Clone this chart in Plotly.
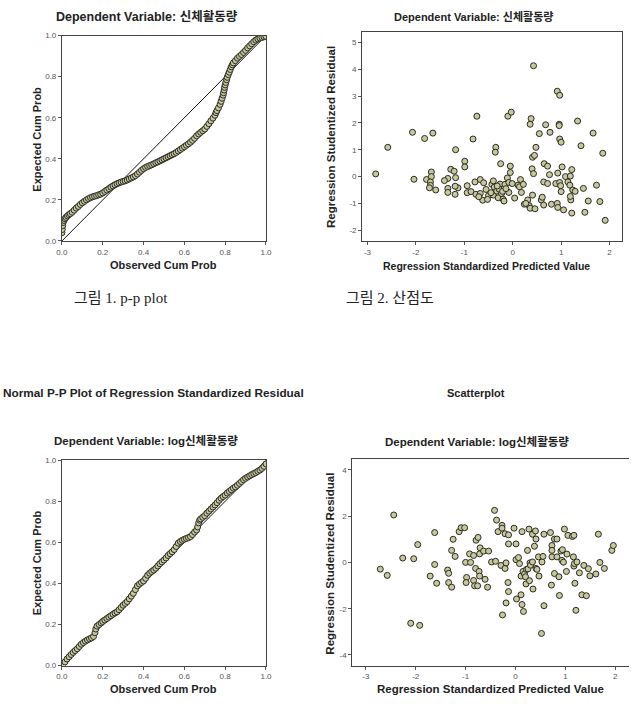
import plotly.graph_objects as go

W, H = 635, 719

# ---------------- data ----------------
# Fig 1: P-P plot, dependent variable 신체활동량
pp1_obs = [0.0, 0.002, 0.004, 0.006, 0.01, 0.015, 0.02, 0.027, 0.034, 0.041, 0.05,
           0.06, 0.07, 0.08, 0.09, 0.1, 0.11, 0.12, 0.13, 0.14, 0.15,
           0.16, 0.17, 0.18, 0.19, 0.2, 0.21, 0.22, 0.23, 0.24, 0.25, 0.26, 0.27, 0.28, 0.29, 0.30, 0.31,
           0.32, 0.33, 0.34, 0.35, 0.36, 0.37, 0.38, 0.39, 0.40, 0.41, 0.42, 0.43, 0.44, 0.45, 0.46, 0.47,
           0.48, 0.49, 0.50, 0.51, 0.52, 0.53, 0.54, 0.55, 0.56, 0.57, 0.58, 0.59, 0.60, 0.61, 0.62, 0.63,
           0.64, 0.65, 0.66, 0.67, 0.68, 0.69, 0.70, 0.71, 0.72, 0.73, 0.74, 0.75, 0.755, 0.76, 0.767,
           0.775, 0.78, 0.785, 0.79, 0.792, 0.795, 0.797, 0.80, 0.803, 0.807, 0.81, 0.815, 0.82, 0.825,
           0.83, 0.835, 0.84, 0.85, 0.86, 0.87, 0.88, 0.89, 0.9, 0.91, 0.92, 0.93, 0.94, 0.95, 0.96,
           0.97, 0.98, 0.99, 1.0]
pp1_exp = [0.04, 0.056, 0.075, 0.09, 0.1, 0.108, 0.115, 0.122, 0.128, 0.133, 0.14,
           0.15, 0.16, 0.168, 0.178, 0.186, 0.193, 0.2, 0.206, 0.211, 0.215,
           0.218, 0.221, 0.225, 0.228, 0.234, 0.241, 0.248, 0.255, 0.262, 0.268, 0.274, 0.279, 0.283, 0.287, 0.29, 0.293,
           0.297, 0.302, 0.307, 0.312, 0.318, 0.326, 0.335, 0.344, 0.352, 0.358, 0.363, 0.367, 0.371, 0.376, 0.381, 0.385,
           0.39, 0.395, 0.40, 0.405, 0.41, 0.415, 0.42, 0.425, 0.431, 0.438, 0.445, 0.452, 0.459, 0.466, 0.473, 0.481,
           0.49, 0.5, 0.512, 0.521, 0.529, 0.537, 0.545, 0.558, 0.571, 0.585, 0.598, 0.612, 0.625, 0.635, 0.648,
           0.665, 0.68, 0.695, 0.71, 0.722, 0.735, 0.748, 0.76, 0.772, 0.785, 0.797, 0.81, 0.822, 0.835,
           0.848, 0.858, 0.867, 0.878, 0.89, 0.899, 0.908, 0.918, 0.928, 0.94, 0.95, 0.96, 0.97, 0.978, 0.984,
           0.988, 0.991, 0.994, 0.996]

# Fig 2: scatterplot, dependent variable 신체활동량
sc1_pred = [-2.83, -2.58, -2.07, -2.04, -1.82, -1.65, -1.78, -1.68, -1.68, -1.70, -1.70, -1.72, -1.59,
            -1.18, -1.28, -1.21, -1.34, -1.41, -1.34, -1.34, -1.19, -1.18, -1.13, -1.19,
            -0.99, -0.99, -0.94, -0.94, -0.86, -0.76, -0.82, -0.74, -0.78, -0.67, -0.67, -0.60, -0.62,
            -0.55, -0.50, -0.43, -0.40, -0.38, -0.35, -0.36, -0.40, -0.33, -0.30, -0.26, -0.28, -0.25,
            -0.23, -0.20, -0.18, -0.16, -0.11, -0.10, -0.03, -0.05, -0.05, -0.08, -0.08, -0.01, 0.04,
            0.11, 0.14, 0.16, 0.18, 0.22, 0.24, 0.31, 0.34, 0.36, 0.40, 0.43, 0.41, 0.46, 0.43, 0.38,
            0.36, 0.41, 0.45, 0.48, 0.55, 0.59, 0.61, 0.64, 0.65, 0.68, 0.72, 0.72, 0.64, 0.77, 0.76,
            0.80, 0.89, 0.92, 0.97, 0.93, 0.92, 0.93, 0.96, 0.96, 0.97, 1.00, 0.97, 0.99, 1.02, 1.00,
            1.05, 1.09, 1.14, 1.18, 1.20, 1.19, 1.22, 1.24, 1.22, 1.29, 1.34, 1.41, 1.46, 1.49, 1.56,
            1.66, 1.73, 1.80, 1.86, 1.91, 1.19, -0.45, -0.32, -0.21, -0.70, -0.52, -0.14, 0.27]
sc1_res = [0.10, 1.09, 1.65, -0.10, 1.42, 1.62, -0.11, 0.17, 0.0, -0.20, -0.33, -0.42, -0.50,
           1.00, 0.27, 0.20, -0.07, -0.15, -0.44, -0.59, -0.66, -0.04, -0.42, -0.36,
           0.57, 0.36, -0.34, -0.60, -0.56, -0.66, 1.40, 2.25, -0.20, -0.63, -0.11, -0.23, -0.88,
           -0.48, -0.71, -0.29, -0.16, -0.39, 1.09, 0.91, -0.69, -0.54, -0.79, -0.28, -0.47, 0.48,
           -0.63, -0.84, -0.91, -0.29, -0.05, 2.25, 2.40, 0.39, 0.15, -0.59, -0.22, -0.26, -0.80,
           -0.32, -0.38, -0.11, -0.59, -0.29, -1.03, -0.87, -1.08, -1.18, 0.29, 0.11, -0.69, -1.20, 4.13, 2.16,
           1.95, 0.72, 0.79, 1.09, 1.60, -0.87, -0.77, -0.20, 0.48, 1.93, 0.39, -0.26, -1.06, 1.65, 0.07,
           -1.03, -0.26, 3.18, 3.03, 0.13, -1.00, -1.15, 1.95, 1.90, 1.40, 1.28, -0.22, -0.34, 0.36, -0.56,
           -1.24, 0.0, -0.20, -0.32, -0.87, 0.02, 0.26, -0.50, -1.36, -0.55, 2.07, 1.15, -0.44, -1.33, -0.91,
           1.62, -0.32, -0.93, 0.87, -1.63, -0.74, -0.60, -0.35, -0.55, -0.75, -0.85, -0.45, -1.0]

# Fig 3: P-P plot, dependent variable log신체활동량
pp2_obs = [0.005, 0.015, 0.025, 0.035, 0.045, 0.055, 0.065, 0.075, 0.085, 0.095, 0.105, 0.115, 0.125,
           0.135, 0.145, 0.155, 0.162, 0.166, 0.172, 0.182, 0.192, 0.2, 0.21, 0.22, 0.23, 0.24, 0.25,
           0.26, 0.27, 0.28, 0.29, 0.30, 0.31, 0.32, 0.33, 0.34, 0.35, 0.36, 0.37, 0.38, 0.39, 0.40,
           0.41, 0.42, 0.43, 0.44, 0.45, 0.46, 0.47, 0.48, 0.49, 0.50, 0.51, 0.52, 0.53, 0.54, 0.55,
           0.56, 0.57, 0.58, 0.59, 0.60, 0.61, 0.62, 0.63, 0.64, 0.65, 0.66, 0.665, 0.67, 0.675, 0.68,
           0.69, 0.70, 0.71, 0.72, 0.73, 0.74, 0.75, 0.76, 0.77, 0.78, 0.79, 0.80, 0.81, 0.82, 0.83,
           0.84, 0.85, 0.86, 0.87, 0.88, 0.89, 0.90, 0.91, 0.92, 0.93, 0.94, 0.95, 0.96, 0.97, 0.98,
           0.99, 1.0]
pp2_exp = [0.006, 0.018, 0.032, 0.043, 0.054, 0.064, 0.073, 0.082, 0.093, 0.104, 0.112, 0.119, 0.125,
           0.13, 0.135, 0.142, 0.16, 0.178, 0.192, 0.2, 0.208, 0.215, 0.222, 0.229, 0.236, 0.243, 0.25,
           0.256, 0.262, 0.272, 0.283, 0.294, 0.303, 0.312, 0.325, 0.338, 0.352, 0.37, 0.388, 0.397, 0.405, 0.412,
           0.425, 0.44, 0.45, 0.458, 0.465, 0.474, 0.485, 0.496, 0.505, 0.514, 0.524, 0.536, 0.545, 0.554, 0.565,
           0.58, 0.596, 0.604, 0.61, 0.615, 0.619, 0.623, 0.628, 0.638, 0.65, 0.66, 0.675, 0.695, 0.708, 0.714,
           0.722, 0.73, 0.742, 0.752, 0.762, 0.772, 0.782, 0.793, 0.805, 0.815, 0.823, 0.83, 0.84, 0.848, 0.856,
           0.864, 0.87, 0.878, 0.887, 0.896, 0.905, 0.912, 0.918, 0.924, 0.93, 0.935, 0.94, 0.946, 0.952, 0.96,
           0.97, 0.982]

# Fig 4: scatterplot, dependent variable log신체활동량
sc2_pred = [-2.71, -2.57, -2.44, -2.26, -2.10, -2.04, -1.96, -1.92, -1.71, -1.62, -1.62, -1.58,
            -1.36, -1.34, -1.34, -1.28, -1.28, -1.25, -1.21, -1.13, -1.09, -1.02, -1.00, -0.98, -0.99,
            -0.92, -0.90, -0.84, -0.84, -0.80, -0.82, -0.79, -0.75, -0.76, -0.72, -0.73, -0.72, -0.71,
            -0.64, -0.61, -0.54, -0.56, -0.48, -0.42, -0.38, -0.40, -0.35, -0.29, -0.27, -0.27, -0.26,
            -0.21, -0.21, -0.19, -0.19, -0.14, -0.14, -0.15, -0.14, -0.03, 0.01, 0.01, 0.02, 0.06, 0.08,
            0.13, 0.11, 0.11, 0.13, 0.15, 0.16, 0.18, 0.20, 0.21, 0.22, 0.24, 0.25, 0.27, 0.28, 0.29, 0.30,
            0.34, 0.34, 0.35, 0.38, 0.40, 0.41, 0.41, 0.43, 0.46, 0.47, 0.52, 0.53, 0.55, 0.57, 0.57,
            0.70, 0.73, 0.73, 0.73, 0.72, 0.78, 0.78, 0.83, 0.83, 0.87, 0.88, 0.91, 0.94, 0.93, 0.96,
            0.98, 1.02, 1.03, 1.05, 1.14, 1.17, 1.16, 1.17, 1.19, 1.21, 1.18, 1.23, 1.28, 1.33, 1.37,
            1.42, 1.46, 1.49, 1.61, 1.66, 1.69, 1.78, 1.93, 1.96]
sc2_res = [-0.29, -0.56, 2.05, 0.19, -2.63, 0.16, 0.77, -2.72, -0.59, 1.29, -0.09, -0.90,
           -0.33, -0.47, -0.87, -1.07, 0.52, 1.00, 0.26, 1.33, 1.50, 1.50, 0.0, -0.65, -0.87,
           0.37, 0.0, 0.30, -0.78, -0.26, -1.01, 0.96, 1.08, -1.01, 0.37, -0.39, -0.59, 0.63,
           0.49, -0.73, 0.49, -1.07, 0.02, 2.25, 1.83, 0.05, 1.33, -0.13, 1.60, 1.48, -2.27,
           1.24, -0.26, -0.02, -1.75, 1.19, 0.80, -0.87, -1.26, 1.48, 0.80, 0.12, -1.58, 0.21, -0.05,
           1.33, -0.59, -1.40, -1.82, -0.39, -2.12, -0.50, -0.62, -0.93, -0.30, 0.52, -0.28, 1.44, -0.79, -0.02, -0.12,
           1.22, 0.02, -1.15, 0.70, 1.36, 1.01, -0.26, -0.30, 0.24, -0.59, -3.07, 0.02, 0.26, 1.22, -1.87,
           1.29, 0.73, 0.52, 0.24, -0.98, 1.01, -0.48, 1.01, 0.24, -0.62, -1.43, 0.49, 0.55, 0.09, 0.01,
           1.44, -0.39, 0.36, 1.17, 1.12, 1.17, 0.24, -0.16, -0.90, -2.07, -0.05, 0.02, -0.45, -1.40, -0.13,
           -1.44, -0.27, -0.58, -0.50, 1.22, 0.0, -0.26, 0.52, 0.73]

diag_x = [0, 1]
diag_y = [0, 1]

pp_ticks = [0.0, 0.2, 0.4, 0.6, 0.8, 1.0]
pp_ticktext = ["0.0", "0.2", "0.4", "0.6", "0.8", "1.0"]
sc_x_ticks = [-3, -2, -1, 0, 1, 2]
sc_x_text = ["-3", "-2", "-1", "0", "1", "2"]
sc1_y_ticks = [-2, -1, 0, 1, 2, 3, 4, 5]
sc1_y_text = ["-2", "-1", "0", "1", "2", "3", "4", "5"]
sc2_y_ticks = [-4, -2, 0, 2, 4]
sc2_y_text = ["-4", "-2", "0", "2", "4"]

# ---------------- figure ----------------
def fx(p):
    return p / W

def fy(p):
    return 1 - p / H

marker = dict(size=6, color="#c8c898", line=dict(color="#2a2a2a", width=1))

fig = go.Figure()
fig.add_trace(go.Scatter(x=diag_x, y=diag_y, mode="lines", line=dict(color="#111", width=1),
                         xaxis="x", yaxis="y", hoverinfo="skip"))
fig.add_trace(go.Scatter(x=pp1_obs, y=pp1_exp, mode="markers", marker=marker, xaxis="x", yaxis="y"))
fig.add_trace(go.Scatter(x=sc1_pred, y=sc1_res, mode="markers", marker=marker, xaxis="x2", yaxis="y2"))
fig.add_trace(go.Scatter(x=diag_x, y=diag_y, mode="lines", line=dict(color="#111", width=1),
                         xaxis="x3", yaxis="y3", hoverinfo="skip"))
fig.add_trace(go.Scatter(x=pp2_obs, y=pp2_exp, mode="markers", marker=marker, xaxis="x3", yaxis="y3"))
fig.add_trace(go.Scatter(x=sc2_pred, y=sc2_res, mode="markers", marker=marker, xaxis="x4", yaxis="y4"))

tickfont = dict(family="Liberation Sans, Arial, sans-serif", size=8, color="#555")

def ax(domain, rng, tv, tt, anchor, mirror=True):
    return dict(domain=domain, range=rng, anchor=anchor, showline=True, linecolor="#444",
                linewidth=1, mirror=mirror, ticks="outside", ticklen=3, tickcolor="#555",
                tickvals=tv, ticktext=tt, showgrid=False, zeroline=False, tickfont=tickfont,
                fixedrange=True)

fig.update_layout(
    width=W, height=H, margin=dict(l=0, r=0, t=0, b=0),
    paper_bgcolor="white", plot_bgcolor="white", showlegend=False,
    xaxis=ax([fx(57), fx(265)], [0, 1], pp_ticks, pp_ticktext, "y"),
    yaxis=ax([fy(240), fy(32)], [0, 1], pp_ticks, pp_ticktext, "x"),
    xaxis2=ax([fx(363), fx(628)], [-3.11, 2.26], sc_x_ticks, sc_x_text, "y2"),
    yaxis2=ax([fy(240), fy(28)], [-2.4, 5.4], sc1_y_ticks, sc1_y_text, "x2"),
    xaxis3=ax([fx(57), fx(265)], [0, 1], pp_ticks, pp_ticktext, "y3"),
    yaxis3=ax([fy(670), fy(462)], [0, 1], pp_ticks, pp_ticktext, "x3"),
    xaxis4=ax([fx(353), 1.0], [-3.27, 2.274], sc_x_ticks, sc_x_text, "y4"),
    yaxis4=ax([fy(670), fy(461)], [-4.46, 4.46], sc2_y_ticks, sc2_y_text, "x4", mirror=False),
)

sans = "Liberation Sans, Arial, Noto Sans CJK KR, sans-serif"
serif = "Liberation Serif, Noto Sans CJK KR, serif"

def note(text, x, y, size=11, family=sans, angle=0, color="#222", xanchor="center"):
    fig.add_annotation(text=text, x=fx(x), y=fy(y), xref="paper", yref="paper",
                       showarrow=False, xanchor=xanchor, yanchor="middle", textangle=angle,
                       font=dict(family=family, size=size, color=color))

# top row
note("<b>Dependent Variable: 신체활동량</b>", 144, 13, 12.5)
note("<b>Observed Cum Prob</b>", 161, 264, 11)
note("<b>Expected Cum Prob</b>", 32, 137, 11, angle=-90)
note("<b>Dependent Variable: 신체활동량</b>", 476, 13, 11)
note("<b>Regression Standardized Predicted Value</b>", 490, 265, 10.5)
note("<b>Regression Studentized Residual</b>", 332, 135, 11.5, angle=-90)
# captions
note("그림 1. p-p plot", 117, 298, 15, family=serif)
note("그림 2. 산점도", 391, 298, 15, family=serif)
# bottom row
note("<b>Normal P-P Plot of Regression Standardized Residual</b>", 150, 394, 11.8)
note("<b>Dependent Variable: log신체활동량</b>", 143, 442, 11.5)
note("<b>Observed Cum Prob</b>", 161, 694, 11)
note("<b>Expected Cum Prob</b>", 32, 566, 11, angle=-90)
note("<b>Scatterplot</b>", 479, 394, 11)
note("<b>Dependent Variable: log신체활동량</b>", 480, 443, 11.5)
note("<b>Regression Standardized Predicted Value</b>", 494, 694, 11.5)
note("<b>Regression Studentized Residual</b>", 330, 567, 11.5, angle=-90)

fig.write_html("out.html")
